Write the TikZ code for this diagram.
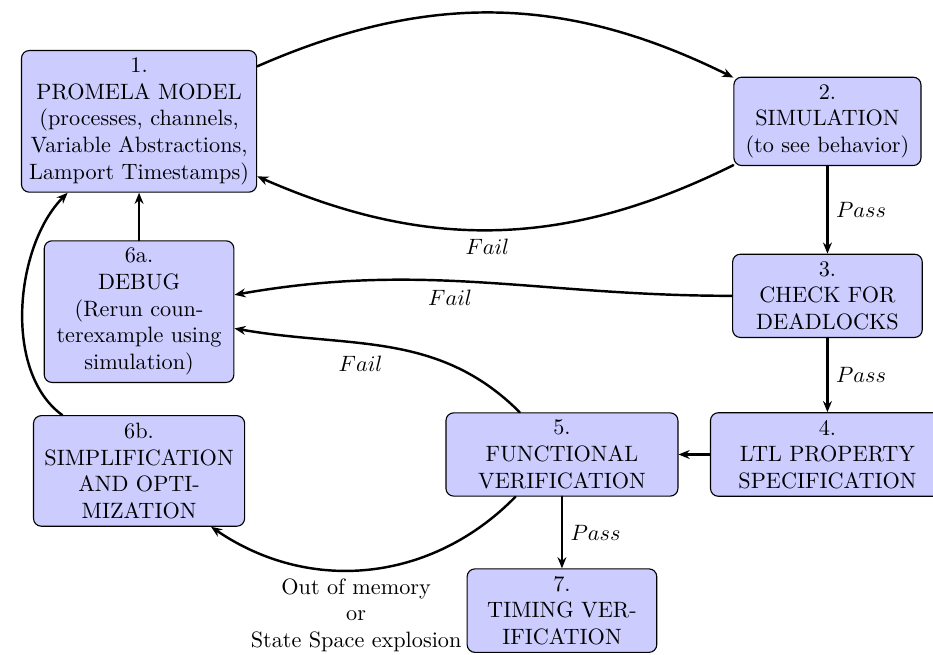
\documentclass[tikz,border=0pt]{standalone}
\usepackage{xcolor}
\usepackage{tikz}
\usetikzlibrary{arrows.meta,positioning}
\definecolor{flowFill}{HTML}{CCCCFF}
\definecolor{flowInk}{HTML}{000000}
\tikzset{
  flow diagram/.style={text=flowInk, line cap=round, line join=round},
  flow box/.style={draw=flowInk, fill=flowFill, line width=0.5pt,
    rounded corners=3.5pt, align=center, inner sep=3.3pt},
  flow arrow/.style={-{Stealth[length=5pt,width=4pt]}, draw=flowInk, line width=1.1pt},
  flow label/.style={text=flowInk}
}
\begin{document}
\begin{tikzpicture}[flow diagram]
\useasboundingbox (0,0) rectangle (14.76,10.36);
\node[flow box, minimum width=3.72cm] (model) at (2.2,8.44)
  {1.\\PROMELA MODEL\\(processes, channels,\\Variable Abstractions,\\Lamport Timestamps)};
\node[flow box, minimum width=2.96cm] (sim) at (13.09,8.44) {2.\\SIMULATION\\(to see behavior)};
\node[flow box, minimum width=3cm] (dead) at (13.09,5.68) {3.\\CHECK FOR\\DEADLOCKS};
\node[flow box, minimum width=3.7cm] (ltl) at (13.09,3.17) {4.\\LTL PROPERTY\\SPECIFICATION};
\node[flow box, minimum width=3.67cm] (func) at (8.89,3.17) {5.\\FUNCTIONAL\\VERIFICATION};
\node[flow box, minimum width=3cm] (debug) at (2.2,5.43)
  {6a.\\DEBUG\\(Rerun coun-\\terexample using\\simulation)};
\node[flow box, minimum width=3.34cm] (simp) at (2.2,2.91) {6b.\\SIMPLIFICATION\\AND OPTI-\\MIZATION};
\node[flow box, minimum width=3cm] (timing) at (8.89,0.70) {7.\\TIMING VER-\\IFICATION};

\draw[flow arrow] (model) to[bend left=25] (sim);
\draw[flow arrow] (sim) to[bend left=25] node[pos=0.52, below, flow label] {$Fail$} (model);
\draw[flow arrow] (sim) -- node[right, flow label] {$Pass$} (dead);
\draw[flow arrow] (dead) -- node[right, flow label] {$Pass$} (ltl);
\draw[flow arrow] (dead) to[out=180, in=10] node[pos=0.57, below, flow label] {$Fail$} (debug);
\draw[flow arrow] (func) to[out=135, in=-10] node[pos=0.6, below=2pt, flow label] {$Fail$} (debug);
\draw[flow arrow] (ltl) -- (func);
\draw[flow arrow] (func) -- node[right, flow label] {$Pass$} (timing);
\draw[flow arrow] (func) to[bend left=40] node[pos=0.54, below, align=center, flow label]
  {Out of memory\\or\\State Space explosion} (simp);
\draw[flow arrow] (simp) to[out=144, in=225, looseness=0.85] (model);
\draw[flow arrow] (debug) -- (model);
\end{tikzpicture}
\end{document}
